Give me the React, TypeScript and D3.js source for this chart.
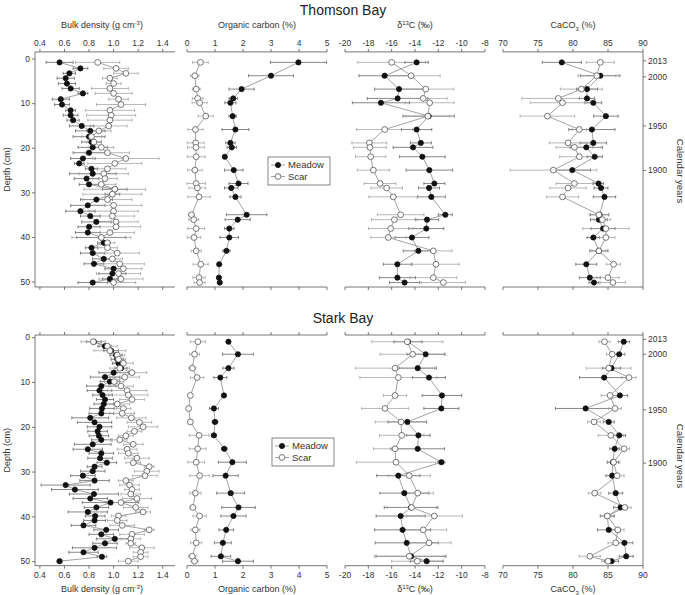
import React from "react";
import * as d3 from "d3";

// ---------------- DATA ----------------
// Thomson Bay, bulk density (dense sampling)
const tbBdDepth = [0.75, 2.1, 3.2, 4.3, 5.5, 6.6, 7.7, 9.0, 10.2, 11.5, 12.6, 13.7, 15.0, 16.1, 17.4, 18.6, 19.8, 21.0, 22.3, 23.4, 24.6, 25.7, 26.8, 28.1, 29.2, 30.3, 31.5, 32.8, 34.1, 35.2, 36.5, 37.6, 38.9, 40.0, 41.2, 42.3, 43.5, 44.8, 45.9, 47.0, 48.1, 49.3, 50.1];
const tbBdMeadow = [0.56, 0.73, 0.64, 0.61, 0.62, 0.65, 0.75, 0.57, 0.58, 0.65, 0.65, 0.67, 0.74, 0.81, 0.80, 0.82, 0.83, 0.80, 0.75, 0.72, 0.82, 0.83, 0.78, 0.80, 1.01, 0.99, 0.86, 0.79, 0.73, 0.81, 0.86, 0.80, 0.79, 0.90, 0.92, 0.82, 0.83, 0.92, 0.84, 1.00, 0.99, 0.97, 0.83];
const tbBdMeadowErr = [0.11, 0.06, 0.05, 0.07, 0.07, 0.07, 0.04, 0.07, 0.06, 0.04, 0.06, 0.05, 0.1, 0.12, 0.13, 0.08, 0.12, 0.13, 0.1, 0.04, 0.05, 0.19, 0.1, 0.08, 0.1, 0.06, 0.13, 0.14, 0.12, 0.08, 0.12, 0.09, 0.1, 0.2, 0.05, 0.05, 0.1, 0.09, 0.08, 0.07, 0.11, 0.06, 0.12];
const tbBdScar = [0.87, 1.02, 1.10, 0.97, 1.00, 0.97, 1.00, 1.04, 1.06, 0.97, 0.98, 0.97, 0.96, 0.88, 0.82, 0.84, 0.90, 0.95, 1.10, 1.01, 0.95, 0.92, 0.93, 0.90, 1.01, 0.99, 0.95, 1.00, 1.00, 0.99, 1.02, 1.02, 0.97, 0.90, 0.95, 0.95, 1.03, 0.99, 1.05, 1.08, 1.04, 1.06, 1.00];
const tbBdScarErr = [0.18, 0.1, 0.1, 0.06, 0.06, 0.15, 0.15, 0.08, 0.2, 0.2, 0.2, 0.18, 0.15, 0.1, 0.08, 0.06, 0.1, 0.18, 0.27, 0.22, 0.15, 0.2, 0.1, 0.12, 0.25, 0.24, 0.2, 0.23, 0.2, 0.18, 0.18, 0.2, 0.2, 0.24, 0.06, 0.08, 0.18, 0.08, 0.2, 0.15, 0.18, 0.18, 0.18];

// Thomson Bay, other variables
const tbDepth = [0.75, 3.74, 6.74, 8.83, 9.8, 12.8, 15.8, 18.8, 19.8, 21.9, 24.9, 27.9, 28.9, 30.9, 34.9, 36.0, 38.0, 40.0, 43.0, 46.0, 49.0, 50.1];
const tbOcMeadow = [3.98, 3.0, 1.95, 1.65, 1.55, 1.63, 1.73, 1.55, 1.6, 1.35, 1.67, 1.84, 1.58, 1.73, 2.13, 1.81, 1.51, 1.51, 1.41, 1.15, 1.14, 1.17];
const tbOcMeadowErr = [1.0, 0.8, 0.45, 0.15, 0.2, 0.13, 0.48, 0.17, 0.17, 0.05, 0.33, 0.34, 0.24, 0.2, 0.72, 0.45, 0.17, 0.33, 0.13, 0.06, 0.06, 0.05];
const tbOcScar = [0.48, 0.28, 0.33, 0.38, 0.45, 0.67, 0.3, 0.31, 0.32, 0.33, 0.28, 0.33, 0.37, 0.43, 0.16, 0.24, 0.33, 0.25, 0.33, 0.49, 0.43, 0.45];
const tbOcScarErr = [0.28, 0.15, 0.14, 0.19, 0.27, 0.27, 0.27, 0.3, 0.3, 0.32, 0.26, 0.33, 0.3, 0.4, 0.1, 0.18, 0.3, 0.24, 0.18, 0.27, 0.22, 0.2];
const tbD13Meadow = [-13.86, -16.6, -15.37, -15.49, -16.92, -12.83, -13.86, -13.5, -14.17, -13.37, -12.77, -12.34, -12.8, -12.6, -11.4, -12.97, -13.03, -14.26, -13.71, -15.51, -15.51, -14.89];
const tbD13MeadowErr = [1.0, 2.2, 2.1, 2.6, 2.45, 2.2, 1.3, 0.9, 1.7, 1.95, 2.0, 0.9, 0.9, 1.2, 0.6, 1.0, 1.5, 1.45, 1.3, 1.2, 1.55, 1.3];
const tbD13Scar = [-16.0, -14.34, -13.08, -13.3, -12.74, -12.9, -16.6, -17.91, -17.86, -17.8, -17.57, -17.0, -16.43, -15.86, -15.23, -15.77, -16.09, -16.29, -12.43, -12.2, -12.43, -11.57];
const tbD13ScarErr = [2.9, 2.5, 2.4, 2.05, 2.1, 1.9, 2.4, 1.5, 1.4, 1.3, 1.37, 1.35, 1.35, 2.1, 2.0, 1.95, 1.9, 1.5, 1.6, 2.0, 2.0, 1.9];
const tbCaMeadow = [78.4, 83.9, 82.0, 82.0, 82.9, 84.7, 82.7, 82.9, 81.9, 83.1, 79.9, 83.65, 84.0, 84.5, 83.8, 83.7, 84.3, 82.9, 83.7, 81.9, 82.4, 83.0];
const tbCaMeadowErr = [2.8, 2.8, 1.5, 1.1, 1.2, 1.75, 3.3, 1.9, 2.3, 1.1, 2.6, 0.7, 1.0, 1.6, 1.3, 1.2, 1.7, 0.9, 1.3, 1.5, 1.5, 0.7];
const tbCaScar = [83.9, 83.4, 81.2, 77.9, 78.5, 76.35, 80.9, 79.3, 80.2, 80.9, 77.2, 80.2, 79.3, 78.5, 83.7, 84.2, 84.7, 84.7, 83.7, 85.8, 85.0, 85.7];
const tbCaScarErr = [2.0, 2.7, 3.0, 5.2, 4.6, 3.9, 1.0, 2.7, 2.6, 2.8, 6.2, 2.6, 2.6, 2.3, 1.4, 1.2, 3.3, 1.3, 1.0, 1.0, 1.6, 1.8];
const tbYearLabels = ["2013", "2000", "1950", "1900"];
const tbYearDepth = [0.4, 4.0, 15.0, 25.0];

// Stark Bay, bulk density
const sbBdDepth = [0.9, 1.9, 2.9, 3.9, 4.8, 5.7, 6.8, 7.8, 8.8, 9.8, 10.8, 11.8, 12.8, 13.8, 14.8, 15.8, 16.9, 17.9, 18.9, 19.9, 20.9, 21.9, 22.8, 23.8, 24.9, 25.8, 26.9, 27.9, 28.8, 29.8, 30.8, 31.9, 32.9, 33.9, 34.9, 35.9, 36.8, 37.9, 38.9, 39.8, 40.8, 41.9, 42.9, 43.9, 44.9, 45.9, 46.9, 47.9, 48.9, 49.9];
const sbBdMeadow = [0.84, 0.93, 0.98, 1.02, 1.03, 1.04, 1.06, 1.0, 0.93, 0.97, 0.9, 0.885, 0.91, 0.93, 0.92, 0.905, 0.9, 0.81, 0.845, 0.885, 0.87, 0.88, 0.9, 0.83, 0.79, 0.9, 0.89, 0.945, 0.845, 0.83, 0.75, 0.845, 0.61, 0.685, 0.84, 0.81, 0.975, 0.86, 0.79, 0.85, 0.845, 0.755, 0.94, 0.9, 1.01, 0.93, 0.845, 0.755, 0.905, 0.56];
const sbBdMeadowErr = [0.06, 0.05, 0.06, 0.05, 0.05, 0.05, 0.05, 0.12, 0.12, 0.08, 0.12, 0.1, 0.08, 0.07, 0.08, 0.1, 0.1, 0.15, 0.14, 0.1, 0.08, 0.08, 0.08, 0.15, 0.12, 0.1, 0.1, 0.08, 0.06, 0.1, 0.1, 0.12, 0.2, 0.19, 0.2, 0.14, 0.23, 0.1, 0.16, 0.08, 0.09, 0.1, 0.1, 0.1, 0.15, 0.1, 0.18, 0.12, 0.04, 0.02];
const sbBdScar = [0.835, 0.95, 0.97, 1.03, 1.04, 1.08, 1.05, 1.15, 1.09, 1.005, 1.06, 1.11, 1.12, 1.15, 1.03, 1.08, 1.07, 1.145, 1.21, 1.24, 1.17, 1.1, 1.05, 1.16, 1.11, 1.12, 1.19, 1.16, 1.29, 1.27, 1.255, 1.1, 1.13, 1.15, 1.14, 1.19, 1.06, 1.18, 1.24, 1.04, 1.03, 1.07, 1.29, 1.15, 1.14, 1.14, 1.23, 1.22, 1.22, 1.12];
const sbBdScarErr = [0.1, 0.08, 0.13, 0.06, 0.06, 0.08, 0.08, 0.12, 0.12, 0.08, 0.1, 0.16, 0.16, 0.1, 0.1, 0.06, 0.1, 0.12, 0.1, 0.12, 0.06, 0.06, 0.06, 0.08, 0.08, 0.08, 0.1, 0.06, 0.04, 0.1, 0.1, 0.06, 0.08, 0.06, 0.08, 0.12, 0.12, 0.1, 0.06, 0.06, 0.08, 0.1, 0.04, 0.1, 0.08, 0.04, 0.1, 0.06, 0.06, 0.08];

// Stark Bay, other variables
const sbDepth = [0.9, 3.7, 6.8, 8.9, 12.9, 15.8, 18.8, 21.8, 24.8, 27.8, 30.8, 34.7, 37.9, 39.8, 42.9, 45.8, 48.8, 49.9];
const sbOcMeadow = [1.48, 1.82, 1.48, 1.19, 1.32, 0.96, 1.0, 0.96, 1.33, 1.62, 1.38, 1.56, 1.84, 1.66, 1.40, 1.28, 1.21, 1.82];
const sbOcMeadowErr = [0.06, 0.55, 0.2, 0.23, 0.07, 0.16, 0.1, 0.09, 0.1, 0.5, 0.45, 0.5, 0.6, 0.45, 0.26, 0.3, 0.35, 0.55];
const sbOcScar = [0.39, 0.27, 0.19, 0.36, 0.12, 0.06, 0.12, 0.43, 0.38, 0.33, 0.45, 0.3, 0.21, 0.45, 0.3, 0.33, 0.19, 0.27];
const sbOcScarErr = [0.27, 0.18, 0.12, 0.24, 0.02, 0.02, 0.02, 0.35, 0.3, 0.3, 0.35, 0.2, 0.1, 0.24, 0.16, 0.2, 0.13, 0.13];
const sbD13Meadow = [-14.6, -13.09, -13.77, -12.8, -11.69, -11.74, -14.66, -13.71, -13.77, -11.74, -15.43, -14.91, -14.34, -15.23, -15.06, -14.71, -14.34, -13.0];
const sbD13MeadowErr = [1.2, 1.6, 1.6, 1.4, 1.7, 1.5, 1.65, 1.0, 2.3, 0.3, 1.85, 2.1, 2.3, 2.1, 2.4, 2.7, 3.0, 1.4];
const sbD13Scar = [-14.66, -14.2, -15.71, -15.43, -15.71, -16.57, -15.2, -15.14, -15.71, -15.63, -14.49, -13.77, -14.29, -12.34, -13.29, -12.8, -14.49, -13.8];
const sbD13ScarErr = [3.05, 2.8, 3.4, 3.3, 1.0, 2.0, 2.2, 1.9, 1.85, 3.4, 1.8, 1.35, 2.1, 2.4, 2.0, 1.9, 3.0, 2.2];
const sbCaMeadow = [87.25, 86.6, 85.5, 84.45, 86.7, 81.8, 85.1, 86.6, 85.95, 85.7, 85.6, 86.1, 86.8, 84.9, 85.1, 87.35, 87.6, 85.5];
const sbCaMeadowErr = [0.8, 0.8, 1.3, 3.5, 1.1, 4.3, 0.8, 0.9, 0.7, 0.8, 0.9, 1.0, 1.0, 1.0, 1.6, 1.2, 1.0, 1.0];
const sbCaScar = [84.5, 85.6, 85.1, 88.0, 85.3, 86.0, 83.0, 85.4, 87.3, 85.8, 86.3, 83.1, 87.4, 84.9, 86.4, 86.1, 82.4, 85.0];
const sbCaScarErr = [0.8, 0.8, 3.2, 1.0, 1.3, 0.9, 0.9, 1.8, 0.8, 0.9, 1.0, 0.9, 0.9, 1.0, 0.9, 1.1, 1.5, 0.9];
const sbYearLabels = ["2013", "2000", "1950", "1900"];
const sbYearDepth = [0.36, 3.7, 16.1, 28.0];

// Axis ticks
const bdTicks = [0.4, 0.6, 0.8, 1.0, 1.2, 1.4];
const ocTicks = [0, 1, 2, 3, 4, 5];
const d13Ticks = [-20, -18, -16, -14, -12, -10, -8];
const caTicks = [70, 75, 80, 85, 90];
const depthTicks = [0, 10, 20, 30, 40, 50];
const legendLabels = ["Meadow", "Scar"];

// ---------------- LAYOUT ----------------
const FONT = "'Liberation Sans', Arial, Helvetica, sans-serif";
const AX = "#555";
const TXT = "#333";
const LINE = "#8a8a8a";

const xBd = d3.scaleLinear().domain([0.36, 1.5]).range([35, 175]);
const xOc = d3.scaleLinear().domain([0, 5]).range([187, 327]);
const xD13 = d3.scaleLinear().domain([-20, -8]).range([345, 485]);
const xCa = d3.scaleLinear().domain([70, 90]).range([503, 643]);

const yTop = d3.scaleLinear().domain([-1.6, 51.1]).range([51.9, 287]);
const yBot = d3.scaleLinear().domain([-0.6, 50.9]).range([335, 565.7]);

type Scale = d3.ScaleLinear<number, number>;

function Series({ depths, vals, x, y }: { depths: number[]; vals: number[]; x: Scale; y: Scale }) {
  const pts = depths.map((d, i) => [x(vals[i]), y(d)] as [number, number]);
  const line = d3.line<[number, number]>()(pts) || "";
  return <path d={line} fill="none" stroke={LINE} strokeWidth={0.8} />;
}

function ErrBars({ depths, vals, errs, x, y, color }: { depths: number[]; vals: number[]; errs: number[]; x: Scale; y: Scale; color: string }) {
  return (
    <g stroke={color} strokeWidth={0.7}>
      {depths.map((d, i) => {
        const yy = y(d);
        const x0 = x(vals[i] - errs[i]);
        const x1 = x(vals[i] + errs[i]);
        return (
          <g key={i}>
            <line x1={x0} x2={x1} y1={yy} y2={yy} />
            <line x1={x0} x2={x0} y1={yy - 1.6} y2={yy + 1.6} />
            <line x1={x1} x2={x1} y1={yy - 1.6} y2={yy + 1.6} />
          </g>
        );
      })}
    </g>
  );
}

function Markers({ depths, vals, x, y, filled }: { depths: number[]; vals: number[]; x: Scale; y: Scale; filled: boolean }) {
  return (
    <g>
      {depths.map((d, i) => (
        <circle key={i} cx={x(vals[i])} cy={y(d)} r={filled ? 2.6 : 2.9} fill={filled ? "#111" : "#fff"} stroke={filled ? "#111" : "#555"} strokeWidth={0.8} />
      ))}
    </g>
  );
}

type PanelProps = {
  x: Scale; y: Scale; ticks: number[]; fmt: (v: number) => string;
  mDepth: number[]; m: number[]; mErr: number[];
  sDepth: number[]; s: number[]; sErr: number[];
  labelsTop: boolean;
};

function Panel(p: PanelProps) {
  const [x0, x1] = p.x.range();
  const [yT, yB] = p.y.range();
  return (
    <g>
      <line x1={x0} x2={x1} y1={yT} y2={yT} stroke={AX} strokeWidth={0.8} />
      <line x1={x0} x2={x1} y1={yB} y2={yB} stroke={AX} strokeWidth={0.8} />
      {p.ticks.map((t) => (
        <g key={t}>
          <line x1={p.x(t)} x2={p.x(t)} y1={yT} y2={yT - 3} stroke={AX} strokeWidth={0.8} />
          <line x1={p.x(t)} x2={p.x(t)} y1={yB} y2={yB + 3} stroke={AX} strokeWidth={0.8} />
          {p.labelsTop ? (
            <text x={p.x(t)} y={yT - 6} textAnchor="middle" fontSize={8.5} fill={TXT}>{p.fmt(t)}</text>
          ) : (
            <text x={p.x(t)} y={yB + 12.5} textAnchor="middle" fontSize={8.5} fill={TXT}>{p.fmt(t)}</text>
          )}
        </g>
      ))}
      <ErrBars depths={p.mDepth} vals={p.m} errs={p.mErr} x={p.x} y={p.y} color="#555" />
      <ErrBars depths={p.sDepth} vals={p.s} errs={p.sErr} x={p.x} y={p.y} color="#999" />
      <Series depths={p.mDepth} vals={p.m} x={p.x} y={p.y} />
      <Series depths={p.sDepth} vals={p.s} x={p.x} y={p.y} />
      <Markers depths={p.mDepth} vals={p.m} x={p.x} y={p.y} filled />
      <Markers depths={p.sDepth} vals={p.s} x={p.x} y={p.y} filled={false} />
    </g>
  );
}

function DepthAxis({ y }: { y: Scale }) {
  const [yT, yB] = y.range();
  const x0 = xBd.range()[0];
  return (
    <g>
      <line x1={x0} x2={x0} y1={yT} y2={yB} stroke={AX} strokeWidth={0.8} />
      {depthTicks.map((t) => (
        <g key={t}>
          <line x1={x0 - 3} x2={x0} y1={y(t)} y2={y(t)} stroke={AX} strokeWidth={0.8} />
          <text x={x0 - 5} y={y(t)} dy="0.33em" textAnchor="end" fontSize={8.5} fill={TXT}>{t}</text>
        </g>
      ))}
      <text transform={`translate(10,${(yT + yB) / 2}) rotate(-90)`} textAnchor="middle" fontSize={9} fill={TXT}>Depth (cm)</text>
    </g>
  );
}

function YearAxis({ y, labels, depths, titleY }: { y: Scale; labels: string[]; depths: number[]; titleY: number }) {
  const [yT, yB] = y.range();
  const x1 = xCa.range()[1];
  return (
    <g>
      <line x1={x1} x2={x1} y1={yT} y2={yB} stroke={AX} strokeWidth={0.8} />
      {labels.map((l, i) => (
        <g key={l}>
          <line x1={x1} x2={x1 + 3} y1={y(depths[i])} y2={y(depths[i])} stroke={AX} strokeWidth={0.8} />
          <text x={x1 + 5} y={y(depths[i])} dy="0.33em" textAnchor="start" fontSize={8.5} fill={TXT}>{l}</text>
        </g>
      ))}
      <text transform={`translate(677,${titleY}) rotate(90)`} textAnchor="middle" fontSize={9.5} fill={TXT}>Calendar years</text>
    </g>
  );
}

function Legend({ x, y }: { x: number; y: number }) {
  return (
    <g>
      <rect x={x} y={y} width={62} height={28} fill="#fff" stroke="#666" strokeWidth={0.8} />
      {legendLabels.map((l, i) => {
        const yy = y + 8 + i * 11.5;
        return (
          <g key={l}>
            <line x1={x + 3} x2={x + 17} y1={yy} y2={yy} stroke={LINE} strokeWidth={0.8} />
            <circle cx={x + 10} cy={yy} r={i === 0 ? 2.6 : 2.9} fill={i === 0 ? "#111" : "#fff"} stroke={i === 0 ? "#111" : "#555"} strokeWidth={0.8} />
            <text x={x + 20} y={yy} dy="0.35em" fontSize={9.5} fill={TXT}>{l}</text>
          </g>
        );
      })}
    </g>
  );
}

function AxisTitles({ yPos }: { yPos: number }) {
  const c = (s: Scale) => (s.range()[0] + s.range()[1]) / 2;
  return (
    <g fontSize={9} fill={TXT} textAnchor="middle">
      <text x={c(xBd) - 3} y={yPos}>Bulk density (g cm<tspan dy={-3.5} fontSize={6}>-3</tspan><tspan dy={3.5}>)</tspan></text>
      <text x={c(xOc)} y={yPos}>Organic carbon (%)</text>
      <text x={c(xD13)} y={yPos}>δ<tspan dy={-3.5} fontSize={6}>13</tspan><tspan dy={3.5}>C (‰)</tspan></text>
      <text x={c(xCa)} y={yPos}>CaCO<tspan dy={2.5} fontSize={6}>3</tspan><tspan dy={-2.5}> (%)</tspan></text>
    </g>
  );
}

const f1 = (v: number) => v.toFixed(1);
const f0 = (v: number) => String(v);

export default function App() {
  return (
    <svg width={685} height={595} style={{ position: "absolute", left: 0, top: 0, background: "#fff" }} fontFamily={FONT}>
      <rect width={685} height={595} fill="#fff" />
      {/* Thomson Bay */}
      <text x={343} y={15} textAnchor="middle" fontSize={14} fill="#222">Thomson Bay</text>
      <AxisTitles yPos={28} />
      <Panel x={xBd} y={yTop} ticks={bdTicks} fmt={f1} mDepth={tbBdDepth} m={tbBdMeadow} mErr={tbBdMeadowErr} sDepth={tbBdDepth} s={tbBdScar} sErr={tbBdScarErr} labelsTop />
      <Panel x={xOc} y={yTop} ticks={ocTicks} fmt={f0} mDepth={tbDepth} m={tbOcMeadow} mErr={tbOcMeadowErr} sDepth={tbDepth} s={tbOcScar} sErr={tbOcScarErr} labelsTop />
      <Panel x={xD13} y={yTop} ticks={d13Ticks} fmt={f0} mDepth={tbDepth} m={tbD13Meadow} mErr={tbD13MeadowErr} sDepth={tbDepth} s={tbD13Scar} sErr={tbD13ScarErr} labelsTop />
      <Panel x={xCa} y={yTop} ticks={caTicks} fmt={f0} mDepth={tbDepth} m={tbCaMeadow} mErr={tbCaMeadowErr} sDepth={tbDepth} s={tbCaScar} sErr={tbCaScarErr} labelsTop />
      <DepthAxis y={yTop} />
      <YearAxis y={yTop} labels={tbYearLabels} depths={tbYearDepth} titleY={171} />
      <Legend x={268} y={157} />

      {/* Stark Bay */}
      <text x={343} y={323} textAnchor="middle" fontSize={14} fill="#222">Stark Bay</text>
      <Panel x={xBd} y={yBot} ticks={bdTicks} fmt={f1} mDepth={sbBdDepth} m={sbBdMeadow} mErr={sbBdMeadowErr} sDepth={sbBdDepth} s={sbBdScar} sErr={sbBdScarErr} labelsTop={false} />
      <Panel x={xOc} y={yBot} ticks={ocTicks} fmt={f0} mDepth={sbDepth} m={sbOcMeadow} mErr={sbOcMeadowErr} sDepth={sbDepth} s={sbOcScar} sErr={sbOcScarErr} labelsTop={false} />
      <Panel x={xD13} y={yBot} ticks={d13Ticks} fmt={f0} mDepth={sbDepth} m={sbD13Meadow} mErr={sbD13MeadowErr} sDepth={sbDepth} s={sbD13Scar} sErr={sbD13ScarErr} labelsTop={false} />
      <Panel x={xCa} y={yBot} ticks={caTicks} fmt={f0} mDepth={sbDepth} m={sbCaMeadow} mErr={sbCaMeadowErr} sDepth={sbDepth} s={sbCaScar} sErr={sbCaScarErr} labelsTop={false} />
      <DepthAxis y={yBot} />
      <YearAxis y={yBot} labels={sbYearLabels} depths={sbYearDepth} titleY={456} />
      <Legend x={272} y={438} />
      <AxisTitles yPos={592} />
    </svg>
  );
}
